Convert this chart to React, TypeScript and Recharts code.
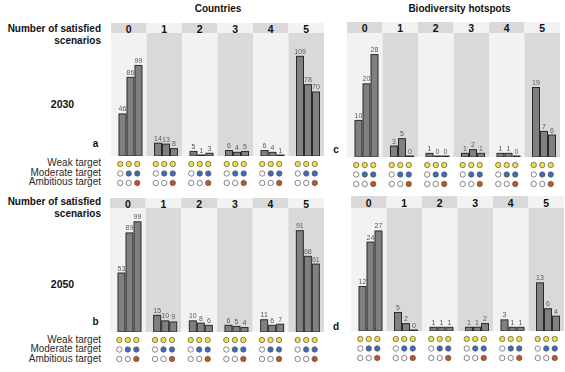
import React from 'react';
import { BarChart, Bar, XAxis, YAxis, ReferenceArea, LabelList } from 'recharts';

const categories = ['0', '1', '2', '3', '4', '5'];

// Panel a: Countries, 2030
const countries2030Weak = [46, 14, 5, 6, 6, 109];
const countries2030Moderate = [86, 13, 1, 4, 4, 78];
const countries2030Ambitious = [99, 8, 3, 5, 1, 70];

// Panel c: Biodiversity hotspots, 2030
const hotspots2030Weak = [10, 3, 1, 1, 1, 19];
const hotspots2030Moderate = [20, 5, 0, 2, 1, 7];
const hotspots2030Ambitious = [28, 0, 0, 1, 0, 6];

// Panel b: Countries, 2050
const countries2050Weak = [53, 15, 10, 6, 11, 91];
const countries2050Moderate = [89, 10, 8, 5, 6, 68];
const countries2050Ambitious = [99, 9, 6, 4, 7, 61];

// Panel d: Biodiversity hotspots, 2050
const hotspots2050Weak = [12, 5, 1, 1, 3, 13];
const hotspots2050Moderate = [24, 2, 1, 1, 1, 6];
const hotspots2050Ambitious = [27, 0, 1, 2, 1, 4];

const targetLabels = ['Weak target', 'Moderate target', 'Ambitious target'];
const weakPattern = ['weak', 'weak', 'weak'];
const moderatePattern = ['none', 'moderate', 'moderate'];
const ambitiousPattern = ['none', 'none', 'ambitious'];
const dotPatterns = [weakPattern, moderatePattern, ambitiousPattern];

const DOT_COLORS: Record<string, string> = {
  weak: '#f2df3a',
  moderate: '#3d6db5',
  ambitious: '#c4561c',
  none: '#ffffff',
};

const LIGHT = '#f2f2f2';
const DARK = '#d9d9d9';
const FONT = '"Liberation Sans", Arial, sans-serif';

type Layout = { x0: number; x1: number; headerTop: number; bodyTop: number; baseline: number; yMax: number };

const layoutA: Layout = { x0: 111, x1: 324, headerTop: 23, bodyTop: 33, baseline: 156, yMax: 134.5 };
const layoutC: Layout = { x0: 347, x1: 560, headerTop: 22, bodyTop: 33, baseline: 157, yMax: 33.9 };
const layoutB: Layout = { x0: 110, x1: 324, headerTop: 198, bodyTop: 208, baseline: 332, yMax: 111.4 };
const layoutD: Layout = { x0: 351, x1: 564, headerTop: 196, bodyTop: 208, baseline: 331, yMax: 33.2 };

const DOT_ROW_OFFSETS = [8, 17.5, 27];
const DOT_X_OFFSETS = [-8.5, 0, 8.5];
const BAR_SHIFT = 2;

function Panel({ layout, weak, moderate, ambitious }: { layout: Layout; weak: number[]; moderate: number[]; ambitious: number[] }) {
  const { x0, x1, headerTop, bodyTop, baseline, yMax } = layout;
  const padL = 2;
  const padR = 2;
  const padTop = 2;
  const dotsH = 34;
  const hdrH = bodyTop - headerTop;
  const width = x1 - x0 + padL + padR;
  const height = baseline - headerTop + padTop + dotsH;
  const bw = (x1 - x0) / categories.length;
  const plotBottom = padTop + (baseline - headerTop);
  const data = categories.map((c, i) => ({ cat: c, w: weak[i], m: moderate[i], a: ambitious[i] }));

  const headerTick = (props: any) => {
    const { x, payload } = props;
    const idx = categories.indexOf(String(payload.value));
    return (
      <g>
        <rect x={x - bw / 2} y={padTop} width={bw} height={hdrH} fill={idx % 2 === 0 ? DARK : LIGHT} />
        <text x={x} y={padTop + hdrH / 2 + 0.5} textAnchor="middle" dominantBaseline="central" fontSize={10.5} fontWeight="bold" fill="#111" fontFamily={FONT}>
          {payload.value}
        </text>
      </g>
    );
  };

  const dotsTick = (props: any) => {
    const { x } = props;
    return (
      <g>
        {dotPatterns.map((row, r) =>
          row.map((kind, k) => (
            <circle
              key={`${r}-${k}`}
              cx={x + DOT_X_OFFSETS[k]}
              cy={plotBottom + DOT_ROW_OFFSETS[r]}
              r={2.7}
              fill={DOT_COLORS[kind]}
              stroke="#555"
              strokeWidth={0.7}
            />
          ))
        )}
      </g>
    );
  };

  const barShape = (p: any) => {
    if (!p || p.height == null) return <g />;
    return <rect x={p.x + BAR_SHIFT} y={p.y} width={p.width} height={Math.max(p.height, 0.5)} fill="#808080" stroke="#2a2a2a" strokeWidth={1} />;
  };

  const label = (p: any) => {
    const { x, y, width, value } = p;
    return (
      <text
        x={x + width / 2 + BAR_SHIFT}
        y={y - 2.5}
        textAnchor="middle"
        fontSize={7}
        fill="#5a5a5a"
        fontFamily={FONT}
        style={{ filter: 'grayscale(1)' }}
      >
        {value}
      </text>
    );
  };

  return (
    <div style={{ position: 'absolute', left: x0 - padL, top: headerTop - padTop }}>
      <BarChart width={width} height={height} data={data} margin={{ top: padTop, right: padR, bottom: 0, left: padL }} barSize={7} barGap={1}>
        <XAxis xAxisId="top" orientation="top" dataKey="cat" height={hdrH} axisLine={false} tickLine={false} tick={headerTick} interval={0} />
        <XAxis xAxisId="bottom" dataKey="cat" height={dotsH} axisLine={false} tickLine={false} tick={dotsTick} interval={0} />
        <YAxis hide type="number" domain={[0, yMax]} allowDataOverflow />
        {categories.map((c, i) => (
          <ReferenceArea key={c} xAxisId="bottom" x1={c} x2={c} fill={i % 2 === 0 ? LIGHT : DARK} fillOpacity={1} stroke="none" ifOverflow="visible" />
        ))}
        <Bar xAxisId="bottom" dataKey="w" isAnimationActive={false} minPointSize={1} shape={barShape}>
          <LabelList dataKey="w" content={label} />
        </Bar>
        <Bar xAxisId="bottom" dataKey="m" isAnimationActive={false} minPointSize={1} shape={barShape}>
          <LabelList dataKey="m" content={label} />
        </Bar>
        <Bar xAxisId="bottom" dataKey="a" isAnimationActive={false} minPointSize={1} shape={barShape}>
          <LabelList dataKey="a" content={label} />
        </Bar>
      </BarChart>
    </div>
  );
}

function Txt({ x, y, children, align = 'left', bold = false, size = 10, color = '#111' }: any) {
  const lh = 12;
  const style: React.CSSProperties = {
    position: 'absolute',
    top: y - lh / 2,
    lineHeight: `${lh}px`,
    fontSize: size,
    fontWeight: bold ? 'bold' : 'normal',
    fontFamily: FONT,
    color,
    whiteSpace: 'nowrap',
  };
  if (align === 'right') {
    style.right = 565 - x;
    style.textAlign = 'right';
  } else if (align === 'center') {
    style.left = x - 100;
    style.width = 200;
    style.textAlign = 'center';
  } else {
    style.left = x;
  }
  return <div style={style}>{children}</div>;
}

function LeftLabels({ top, year, letter, letterY, yearY, targetYs }: any) {
  return (
    <>
      <Txt x={101} y={top} align="right" bold>Number of satisfied</Txt>
      <Txt x={101} y={top + 11.5} align="right" bold>scenarios</Txt>
      <Txt x={62.5} y={yearY} align="center" bold size={10.5}>{year}</Txt>
      <Txt x={95.5} y={letterY} align="center" bold>{letter}</Txt>
      {targetLabels.map((t, i) => (
        <Txt key={t} x={101} y={targetYs[i]} align="right" color="#2a2a2a">{t}</Txt>
      ))}
    </>
  );
}

export default function App() {
  return (
    <div style={{ position: 'absolute', left: 0, top: 0, width: 565, height: 372, background: '#fff', overflow: 'hidden' }}>
      <Txt x={218} y={9} align="center" bold>Countries</Txt>
      <Txt x={459.5} y={9} align="center" bold>Biodiversity hotspots</Txt>

      <LeftLabels top={29} year="2030" yearY={104} letter="a" letterY={144} targetYs={[163, 172.5, 182]} />
      <LeftLabels top={202} year="2050" yearY={284} letter="b" letterY={322} targetYs={[339.5, 349, 358.5]} />
      <Txt x={336} y={150} align="center" bold>c</Txt>
      <Txt x={336} y={327} align="center" bold>d</Txt>

      <Panel layout={layoutA} weak={countries2030Weak} moderate={countries2030Moderate} ambitious={countries2030Ambitious} />
      <Panel layout={layoutC} weak={hotspots2030Weak} moderate={hotspots2030Moderate} ambitious={hotspots2030Ambitious} />
      <Panel layout={layoutB} weak={countries2050Weak} moderate={countries2050Moderate} ambitious={countries2050Ambitious} />
      <Panel layout={layoutD} weak={hotspots2050Weak} moderate={hotspots2050Moderate} ambitious={hotspots2050Ambitious} />
    </div>
  );
}
